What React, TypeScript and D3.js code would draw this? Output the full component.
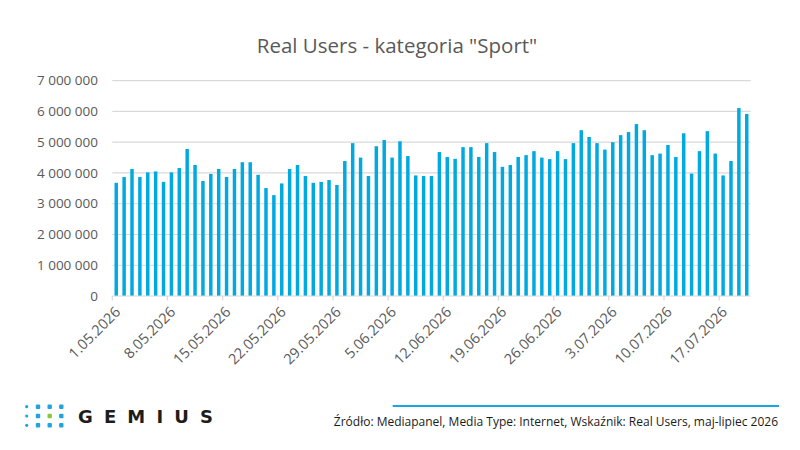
import React from "react";
import * as d3 from "d3";

const title = 'Real Users - kategoria "Sport"';
const startDate = new Date(2026, 4, 1);
const values: number[] = [
  3.68, 3.87, 4.13, 3.87, 4.02, 4.05, 3.71, 4.02, 4.16, 4.78, 4.26, 3.74, 3.97, 4.13, 3.87, 4.13, 4.35, 4.35, 3.94, 3.51, 3.28, 3.66, 4.13, 4.26, 3.9, 3.68,
  3.71, 3.77, 3.61, 4.39, 4.97, 4.5, 3.9, 4.87, 5.07, 4.5, 5.03, 4.55, 3.92, 3.9, 3.9, 4.68, 4.52, 4.46, 4.84, 4.84, 4.52, 4.97, 4.68, 4.2, 4.26, 4.52, 4.58,
  4.71, 4.5, 4.45, 4.71, 4.45, 4.97, 5.39, 5.17, 4.97, 4.76, 5.0, 5.23, 5.33, 5.59, 5.39, 4.58, 4.63, 4.91, 4.52, 5.29, 3.98, 4.71, 5.36, 4.63, 3.92, 4.39, 6.11, 5.92,
].map((v) => v * 1e6);
const categories: Date[] = values.map((_, i) => d3.timeDay.offset(startDate, i));
const tickLabels: string[] = [
  "1.05.2026", "8.05.2026", "15.05.2026", "22.05.2026", "29.05.2026", "5.06.2026",
  "12.06.2026", "19.06.2026", "26.06.2026", "3.07.2026", "10.07.2026", "17.07.2026",
];
const yTicks: number[] = [0, 1e6, 2e6, 3e6, 4e6, 5e6, 6e6, 7e6];
const sourceText = "Źródło: Mediapanel, Media Type: Internet, Wskaźnik: Real Users, maj-lipiec 2026";
const labelStep = 7;

const W = 800;
const H = 450;
const left = 112.3;
const right = 750.7;
const top = 80.7;
const bottom = 296;
const BLUE = "#00A9E0";
const GRID = "#D9D9D9";
const AXIS_TEXT = "#595959";
const FONT = "'Open Sans', 'Noto Sans', sans-serif";

const fmt = (v: number) => d3.format(",")(v).replace(/,/g, " ");

export default function App() {
  const x = d3
    .scaleBand<number>()
    .domain(categories.map((_, i) => i))
    .range([left, right])
    .paddingInner(0.56)
    .paddingOuter(0.28);
  const step = x.step();
  const y = d3.scaleLinear().domain([0, 7e6]).range([bottom, top]);

  const tickIdx = d3.range(0, categories.length, labelStep);
  const dotCols = [26.7, 38, 49.7, 61.3];
  const dotRows = [406.7, 416, 425.3];

  return (
    <div style={{ position: "absolute", left: 0, top: 0 }}>
      <svg width={W} height={H} style={{ display: "block", background: "#fff" }}>
        <rect width={W} height={H} fill="#fff" />
        <text x={397} y={53} textAnchor="middle" fontFamily={FONT} fontSize={20.5} fill={AXIS_TEXT}>
          {title}
        </text>
        {yTicks.map((t) => (
          <g key={t}>
            {t > 0 && <line x1={left} x2={right} y1={y(t)} y2={y(t)} stroke={GRID} strokeWidth={1.2} />}
            <text x={98} y={y(t)} dy="0.35em" textAnchor="end" fontFamily={FONT} fontSize={13.5} fill={AXIS_TEXT}>
              {fmt(t)}
            </text>
          </g>
        ))}
        {values.map((v, i) => (
          <rect key={i} x={x(i)} y={y(v)} width={x.bandwidth()} height={y(0) - y(v)} fill={BLUE} />
        ))}
        <line x1={left} x2={right} y1={bottom} y2={bottom} stroke={GRID} strokeWidth={1.2} />
        {tickIdx.map((i, k) => {
          const tx = left + i * step;
          const cx = tx + step / 2;
          return (
            <g key={i}>
              <line x1={tx} x2={tx} y1={bottom} y2={bottom + 4.5} stroke={GRID} strokeWidth={1.2} />
              <text
                transform={`translate(${cx + 5},${313}) rotate(-45)`}
                textAnchor="end"
                fontFamily={FONT}
                fontSize={14.5}
                fill={AXIS_TEXT}
              >
                {tickLabels[k]}
              </text>
            </g>
          );
        })}
        {dotRows.map((ry, r) =>
          dotCols.map((cx, c) =>
            c === 0 ? (
              <circle key={`${r}-${c}`} cx={cx} cy={ry} r={1.6} fill="#1EA5E0" />
            ) : (
              <rect
                key={`${r}-${c}`}
                x={cx - 2.2}
                y={ry - 2.2}
                width={4.4}
                height={4.4}
                rx={1}
                fill={r === 1 && c === 2 ? "#8CC63F" : "#1EA5E0"}
              />
            )
          )
        )}
        <text
          x={78}
          y={423}
          fontFamily="'DejaVu Sans', sans-serif"
          fontSize={18}
          fontWeight={600}
          fill="#1D1D1B"
          textLength={135}
          lengthAdjust="spacing"
        >
          GEMIUS
        </text>
        <line x1={392.7} x2={779} y1={406} y2={406} stroke="#1AA6E1" strokeWidth={2.2} />
        <text x={778} y={426} textAnchor="end" fontFamily={FONT} fontSize={12} fill="#1A1A1A">
          {sourceText}
        </text>
      </svg>
    </div>
  );
}
